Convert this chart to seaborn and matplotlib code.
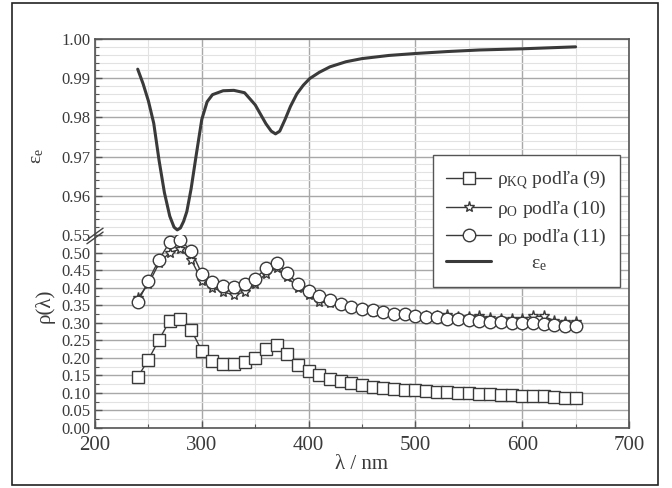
import matplotlib
matplotlib.use('Agg')
import matplotlib.pyplot as plt
import seaborn as sns
import numpy as np
import pandas as pd
from matplotlib.patches import Rectangle
from matplotlib.ticker import MultipleLocator, FormatStrFormatter

#----------------------------------------------------------------------------------------------------------------------#
# Data
#----------------------------------------------------------------------------------------------------------------------#

# Wavelengths of the measured points (nm)
lam = list(range(240, 660, 10))

# rho_KQ podla (9) - squares
rho_kq = [0.145, 0.195, 0.252, 0.306, 0.312, 0.280, 0.220, 0.191, 0.183, 0.183,
          0.188, 0.200, 0.226, 0.236, 0.210, 0.180, 0.163, 0.150, 0.140, 0.133,
          0.127, 0.122, 0.118, 0.115, 0.112, 0.109, 0.107, 0.105, 0.104, 0.102,
          0.101, 0.099, 0.097, 0.096, 0.094, 0.093, 0.092, 0.091, 0.090, 0.088,
          0.086, 0.085]

# rho_O podla (10) - stars
rho_o10 = [0.370, 0.410, 0.470, 0.500, 0.510, 0.480, 0.420, 0.400, 0.387, 0.380,
           0.387, 0.410, 0.440, 0.455, 0.430, 0.400, 0.378, 0.360, 0.355, 0.350,
           0.343, 0.336, 0.331, 0.328, 0.325, 0.322, 0.320, 0.318, 0.318, 0.322,
           0.316, 0.315, 0.320, 0.313, 0.311, 0.311, 0.312, 0.318, 0.318, 0.306,
           0.302, 0.301]

# rho_O podla (11) - circles
rho_o11 = [0.358, 0.420, 0.480, 0.530, 0.535, 0.505, 0.440, 0.415, 0.405, 0.402,
           0.410, 0.425, 0.455, 0.470, 0.442, 0.410, 0.390, 0.376, 0.364, 0.354,
           0.346, 0.340, 0.335, 0.330, 0.326, 0.324, 0.320, 0.317, 0.315, 0.312,
           0.310, 0.307, 0.305, 0.303, 0.301, 0.300, 0.299, 0.298, 0.297, 0.293,
           0.290, 0.290]

# epsilon_e curve
lam_eps = [240, 245, 250, 255, 260, 265, 270, 274, 277, 280, 283, 286, 290, 295,
           300, 305, 310, 320, 330, 340, 350, 355, 360, 365, 369, 373, 378, 383,
           389, 395, 401, 410, 420, 435, 450, 475, 500, 530, 560, 600, 650]
eps_e = [0.9923, 0.9886, 0.9842, 0.9785, 0.9690, 0.9608, 0.9548, 0.9520, 0.9513, 0.9518,
         0.9535, 0.9560, 0.9618, 0.9708, 0.9795, 0.9840, 0.9858, 0.9868, 0.9869, 0.9863,
         0.9832, 0.9808, 0.9784, 0.9765, 0.9758, 0.9765, 0.9795, 0.9828, 0.9860, 0.9882,
         0.9899, 0.9915, 0.9929, 0.9942, 0.9950, 0.9958, 0.9963, 0.9968, 0.9972, 0.9975,
         0.9980]

# Labels
labels = [r'ρ$_\mathregular{KQ}$ podľa (9)', r'ρ$_\mathregular{O}$ podľa (10)',
          r'ρ$_\mathregular{O}$ podľa (11)', r'       ε$_\mathregular{e}$']

#----------------------------------------------------------------------------------------------------------------------#
# Style
#----------------------------------------------------------------------------------------------------------------------#

serif = 'Liberation Serif'
sns.set_theme(style='ticks')
plt.rcParams['font.family'] = [serif, 'DejaVu Serif']
plt.rcParams['mathtext.fontset'] = 'custom'
plt.rcParams['mathtext.rm'] = serif
plt.rcParams['mathtext.it'] = serif + ':italic'

ink = '#3a3a3a'
grid_major = '#a8a8a8'
grid_minor = '#e2e2e2'

W, H = 672, 488
fig = plt.figure(figsize=(W / 100, H / 100), dpi=100)
fig.patch.set_facecolor('white')

# axes geometry in pixels
x0, x1 = 95, 629
y_top, y_brk, y_bot = 39, 235, 428
ax_t = fig.add_axes([x0 / W, 1 - y_brk / H, (x1 - x0) / W, (y_brk - y_top) / H])
ax_b = fig.add_axes([x0 / W, 1 - y_bot / H, (x1 - x0) / W, (y_bot - y_brk) / H])

# outer frame of the figure
fig.patches.append(Rectangle((12 / W, 3 / H), 646 / W, 482 / H, transform=fig.transFigure,
                             fill=False, edgecolor='#222222', linewidth=1.2))

#----------------------------------------------------------------------------------------------------------------------#
# Plot
#----------------------------------------------------------------------------------------------------------------------#

sns.lineplot(x=lam_eps, y=eps_e, ax=ax_t, color=ink, linewidth=2.2, legend=False)

common = dict(color=ink, linewidth=1.0, markerfacecolor='white', markeredgecolor=ink,
              markeredgewidth=1.0, legend=False)
sns.lineplot(x=lam, y=rho_kq, ax=ax_b, marker='s', markersize=8, **common)
sns.lineplot(x=lam, y=rho_o10, ax=ax_b, marker='*', markersize=8, **common)
sns.lineplot(x=lam, y=rho_o11, ax=ax_b, marker='o', markersize=9, **common)

for ax in (ax_t, ax_b):
    ax.set_xlim(200, 700)
    ax.xaxis.set_major_locator(MultipleLocator(100))
    ax.xaxis.set_minor_locator(MultipleLocator(50))
    ax.grid(which='major', color=grid_major, linewidth=1.0, zorder=0)
    ax.grid(which='minor', color=grid_minor, linewidth=0.8, zorder=0)
    ax.set_axisbelow(True)
    ax.tick_params(which='both', direction='in', colors='#555555', labelcolor=ink)
    ax.tick_params(which='major', length=5, width=1.0)
    ax.tick_params(which='minor', length=3, width=0.8)
    for s in ax.spines.values():
        s.set_color('#555555')
        s.set_linewidth(1.2)

# top part: epsilon_e
ax_t.set_ylim(0.95, 1.00)
ax_t.set_yticks([0.96, 0.97, 0.98, 0.99, 1.00])
ax_t.yaxis.set_minor_locator(MultipleLocator(0.002))
ax_t.yaxis.set_major_formatter(FormatStrFormatter('%.2f'))
ax_t.spines['bottom'].set_visible(False)
ax_t.tick_params(axis='x', which='both', bottom=False, labelbottom=False)
ax_t.tick_params(axis='y', labelsize=12)

# bottom part: rho
ax_b.set_ylim(0.0, 0.55)
ax_b.yaxis.set_major_locator(MultipleLocator(0.05))
ax_b.yaxis.set_minor_locator(MultipleLocator(0.025))
ax_b.yaxis.set_major_formatter(FormatStrFormatter('%.2f'))
ax_b.spines['top'].set_visible(False)
ax_b.tick_params(axis='y', labelsize=12)
ax_b.tick_params(axis='x', labelsize=15, pad=6)
ax_b.set_xlabel('λ / nm', fontsize=15, color=ink, labelpad=0)

# axis break mark on the left axis
bx = [x0 / W - 0.012, x0 / W + 0.012]
for dy in (-0.004, 0.004):
    fig.lines.append(plt.Line2D(bx, [1 - y_brk / H - 0.014 + dy, 1 - y_brk / H + 0.010 + dy],
                                transform=fig.transFigure, color='#444444', linewidth=1.0))

# y labels
fig.text(37 / W, 1 - 156 / H, r'ε$_\mathregular{e}$', rotation=90, ha='center', va='center',
         fontsize=14, color=ink)
fig.text(45 / W, 1 - 306 / H, 'ρ(λ)', rotation=90, ha='center', va='center',
         fontsize=15, color=ink)

# legend
handles = list(ax_b.lines[:3]) + [ax_t.lines[0]]
leg = fig.legend(handles, labels, loc='upper right', bbox_to_anchor=(620 / W, 1 - 155 / H),
                 fontsize=14, frameon=True, fancybox=False, framealpha=1, borderaxespad=0,
                 handlelength=2.3, handletextpad=0.3, borderpad=0.7, labelspacing=0.35)
leg.get_frame().set_edgecolor('#555555')
leg.get_frame().set_linewidth(1.0)
for t in leg.get_texts():
    t.set_color(ink)

fig.savefig('out.png', dpi=100)
